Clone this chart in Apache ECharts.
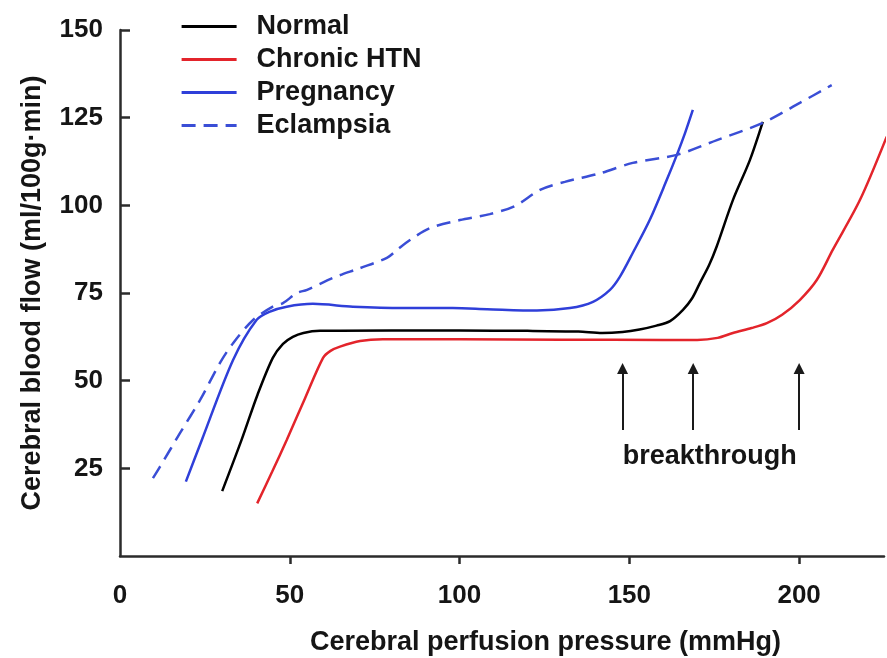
<!DOCTYPE html>
<html>
<head>
<meta charset="utf-8">
<script src="https://cdn.jsdelivr.net/npm/echarts@6/dist/echarts.min.js"></script>
<style>html,body{margin:0;padding:0;background:#fff}#c{width:887px;height:658px}</style>
</head>
<body>
<div id="c"></div>
<script>
// ---- data ----
const seriesNames = ['Normal', 'Chronic HTN', 'Pregnancy', 'Eclampsia'];
const normal = [[30.1,18.5],[35.8,33.1],[40.5,46],[45.0,56.5],[48,60.5],[50.9,62.5],[54,63.6],[58.9,64.2],[80,64.3],[100,64.3],[120,64.2],[135,64.0],[142,63.6],[148,63.9],[153,64.6],[158,65.7],[162,67],[165.8,70.2],[168.5,73.5],[170.8,77.9],[173.5,83],[175.7,88.2],[180.5,101.5],[185.5,112.9],[189.3,123.8]];
const chronicHTN = [[40.4,15.0],[44.8,24],[49.1,33.1],[54.5,45],[59.8,56.5],[62,58.5],[64.8,59.7],[70.7,61.3],[77.4,61.8],[100,61.8],[130,61.7],[160,61.6],[170,61.6],[176,62.2],[180.5,63.6],[186,65],[190.5,66.4],[195,68.8],[200.2,73],[205.2,78.7],[209.9,87.3],[217.9,101.5],[225.8,119.6]];
const pregnancy = [[19.4,21.2],[24.1,33.1],[33.3,55.9],[40.2,67.3],[44.2,69.7],[49.1,71.1],[56.8,71.9],[68.6,71.1],[83.3,70.7],[98.0,70.7],[108.1,70.4],[122.8,70.0],[132.5,70.7],[139.3,72.5],[144.3,75.9],[147.2,79.6],[151.0,86.4],[156.0,95.8],[161.0,107.2],[164.0,114.4],[166.4,120.6],[168.7,127.2]];
const eclampsia = [[9.7,22.2],[11.8,25.5],[17.7,35.1],[23.6,44.5],[29.4,55.0],[33.3,60.7],[39.2,67.3],[45.0,71.1],[48.0,72.1],[52.1,75.0],[55.1,75.9],[62.7,79.3],[70.7,82.1],[78.6,85.0],[81.6,87.3],[85.4,90.1],[91.3,93.5],[100.1,95.8],[108.9,97.5],[116.3,99.8],[123.7,104.4],[131.0,106.7],[141.3,109.1],[151.0,112.1],[164.0,114.4],[175.8,118.6],[189.3,123.5],[200.2,129.2],[209.6,134.3]];
const breakthroughX = [148, 168.8, 200];
const arrowY = [35.9, 53.5];
const breakthroughLabel = { text: 'breakthrough', x: 173.7, y: 28.3 };
const xTickLabels = [0, 50, 100, 150, 200];
const xTicks = [50, 100, 150, 200];
const yTicks = [25, 50, 75, 100, 125, 150];

const FONT = '"Liberation Sans", Arial, Helvetica, sans-serif';
const TXT = '#151515';
const colors = ['#000000', '#e3242b', '#2f3fd9', '#3a4ed6'];
const datasets = [normal, chronicHTN, pregnancy, eclampsia];

const series = seriesNames.map((name, i) => ({
  name,
  type: 'line',
  data: datasets[i],
  symbol: 'none',
  smooth: 0.3,
  clip: true,
  lineStyle: { color: colors[i], width: 2.5, type: i === 3 ? [14, 8] : 'solid' },
  itemStyle: { color: colors[i] },
  z: i === 3 ? 3 : 2
}));

series[0].markLine = {
  silent: true,
  symbol: ['none', 'triangle'],
  symbolSize: 11,
  label: { show: false },
  lineStyle: { color: '#1a1a1a', width: 2, type: 'solid' },
  data: breakthroughX.map(x => [{ coord: [x, arrowY[0]] }, { coord: [x, arrowY[1]] }])
};
series[0].markPoint = {
  silent: true,
  symbol: 'circle',
  symbolSize: 0,
  data: [{ coord: [breakthroughLabel.x, breakthroughLabel.y], value: breakthroughLabel.text }],
  label: {
    show: true, position: 'inside', formatter: breakthroughLabel.text,
    fontFamily: FONT, fontWeight: 'bold', fontSize: 27, color: TXT
  }
};

const chart = echarts.init(document.getElementById('c'), null, { renderer: 'canvas' });
chart.setOption({
  animation: false,
  backgroundColor: '#ffffff',
  grid: { left: 120, right: 3, top: 30, bottom: 102, containLabel: false, outerBoundsMode: 'none' },
  legend: {
    data: seriesNames,
    orient: 'vertical',
    left: 175,
    top: 8,
    itemWidth: 55,
    itemHeight: 14,
    itemGap: 6,
    selectedMode: false,
    itemStyle: { opacity: 0 },
    lineStyle: { width: 3.2 },
    textStyle: {
      fontFamily: FONT, fontWeight: 'bold', fontSize: 27, color: TXT,
      lineHeight: 27, padding: [0, 0, 0, 15]
    }
  },
  xAxis: {
    type: 'value',
    min: 0, max: 225, interval: 50,
    name: 'Cerebral perfusion pressure (mmHg)',
    nameLocation: 'middle',
    nameGap: 73,
    nameTextStyle: { fontFamily: FONT, fontWeight: 'bold', fontSize: 27, color: TXT, padding: [0, 0, 0, 87] },
    axisLine: { show: true, lineStyle: { color: '#2b2b2b', width: 2.5 } },
    axisTick: { show: true, inside: false, length: 8, customValues: xTicks, lineStyle: { color: '#2b2b2b', width: 2.5 } },
    axisLabel: { show: true, customValues: xTickLabels, margin: 27, fontFamily: FONT, fontWeight: 'bold', fontSize: 26, color: TXT },
    splitLine: { show: false }
  },
  yAxis: {
    type: 'value',
    min: 0, max: 150, interval: 25,
    name: 'Cerebral blood flow (ml/100g\u00b7min)',
    nameLocation: 'middle',
    nameRotate: 90,
    nameGap: 74,
    nameTextStyle: { fontFamily: FONT, fontWeight: 'bold', fontSize: 27, color: TXT },
    axisLine: { show: true, lineStyle: { color: '#2b2b2b', width: 2.5 } },
    axisTick: { show: true, inside: true, length: 10, customValues: yTicks, lineStyle: { color: '#2b2b2b', width: 2.5 } },
    axisLabel: { show: true, customValues: yTicks, margin: 17, fontFamily: FONT, fontWeight: 'bold', fontSize: 26, color: TXT },
    splitLine: { show: false }
  },
  series
});
</script>
</body>
</html>
